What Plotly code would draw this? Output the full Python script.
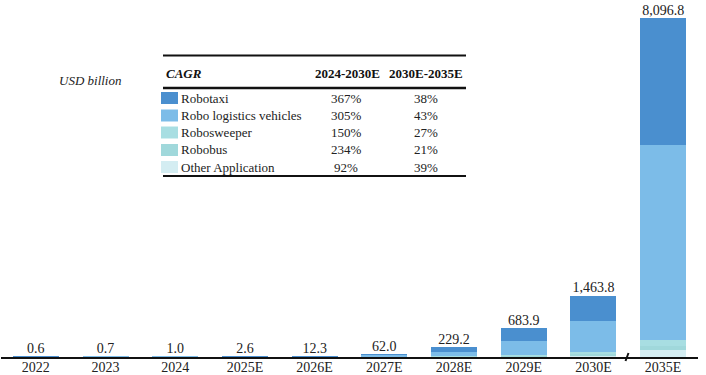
import plotly.graph_objects as go

categories = ["2022", "2023", "2024", "2025E", "2026E", "2027E", "2028E", "2029E", "2030E", "2035E"]
totals = [0.6, 0.7, 1.0, 2.6, 12.3, 62.0, 229.2, 683.9, 1463.8, 8096.8]
total_labels = ["0.6", "0.7", "1.0", "2.6", "12.3", "62.0", "229.2", "683.9", "1,463.8", "8,096.8"]

series_names = ["Other Application", "Robobus", "Robosweeper", "Robo logistics vehicles", "Robotaxi"]
other_app = [0.41, 0.45, 0.57, 0.8, 1.5, 2.5, 5.2, 14.9, 33.8, 176.8]
robobus = [0.01, 0.02, 0.03, 0.1, 0.6, 2.5, 6.0, 17.0, 40.0, 95.0]
robosweeper = [0.08, 0.10, 0.17, 0.5, 1.2, 3.0, 8.0, 22.0, 50.0, 145.0]
robo_logistics = [0.08, 0.10, 0.17, 0.9, 7.0, 44.0, 110.0, 340.0, 740.0, 4640.0]
robotaxi = [0.02, 0.03, 0.06, 0.3, 2.0, 10.0, 100.0, 290.0, 600.0, 3040.0]
series_values = [other_app, robobus, robosweeper, robo_logistics, robotaxi]
series_colors = ["#D4EDF2", "#A0D8DB", "#A8DEE2", "#7CBCE8", "#4A8FCF"]

# CAGR table (top to bottom)
table_names = ["Robotaxi", "Robo logistics vehicles", "Robosweeper", "Robobus", "Other Application"]
table_colors = ["#4A8FCF", "#7CBCE8", "#A8DEE2", "#A0D8DB", "#D4EDF2"]
cagr_2024_2030 = ["367%", "305%", "150%", "234%", "92%"]
cagr_2030_2035 = ["38%", "43%", "27%", "21%", "39%"]

W, H = 706, 375
BASE = 357  # pixel y of the x axis


def px(x):
    return x / W


def py(y):
    return (BASE - y) / BASE


SERIF = "Liberation Serif, Times New Roman, serif"


def label(x, y, text, size=13, anchor="center", color="#222"):
    return dict(x=px(x), y=py(y), xref="paper", yref="paper", text=text, showarrow=False,
                xanchor=anchor, yanchor="middle", borderpad=0,
                font=dict(family=SERIF, size=size, color=color))


fig = go.Figure()
for name, vals, col in zip(series_names, series_values, series_colors):
    fig.add_trace(go.Bar(x=categories, y=vals, name=name, marker=dict(color=col, line=dict(width=0)),
                         showlegend=False, hoverinfo="x+y+name"))

# total labels above the bars
fig.add_trace(go.Scatter(x=categories, y=totals, mode="text", text=total_labels, textposition="top center",
                         textfont=dict(family=SERIF, size=14, color="#222"), showlegend=False, hoverinfo="skip",
                         cliponaxis=False))

annotations = []
shapes = []
# table rules
for yy, wd in [(55.5, 2), (88, 2.5), (176, 2)]:
    shapes.append(dict(type="line", xref="paper", yref="paper", x0=px(163), x1=px(466), y0=py(yy), y1=py(yy),
                       line=dict(color="#111", width=wd)))

annotations.append(label(90, 80, "<i>USD billion</i>"))
annotations.append(label(165, 73, "<b><i>CAGR</i></b>", anchor="left", color="#111"))
annotations.append(label(347, 73, "<b>2024-2030E</b>", color="#111"))
annotations.append(label(426, 73, "<b>2030E-2035E</b>", color="#111"))

row_y = [98, 115.5, 132.5, 150, 167]
for yy, nm, col, a, b in zip(row_y, table_names, table_colors, cagr_2024_2030, cagr_2030_2035):
    shapes.append(dict(type="rect", xref="paper", yref="paper", x0=px(161), x1=px(178), y0=py(yy + 6), y1=py(yy - 6),
                       fillcolor=col, line=dict(width=0)))
    annotations.append(label(180, yy, nm, anchor="left"))
    annotations.append(label(346, yy, a))
    annotations.append(label(426, yy, b))

# axis break mark between 2030E and 2035E
shapes.append(dict(type="line", xref="paper", yref="paper", x0=px(625.5), x1=px(628.5), y0=py(361), y1=py(353),
                   line=dict(color="#111", width=2)))

fig.update_layout(
    width=W, height=H,
    margin=dict(l=0, r=0, t=0, b=H - BASE, pad=0),
    paper_bgcolor="white", plot_bgcolor="white",
    barmode="stack", bargap=0.34,
    xaxis=dict(type="category", range=[-0.5, len(categories) - 0.5], domain=[px(1), px(698)], showline=True,
               linecolor="#111", linewidth=1.5, ticks="", ticklabelstandoff=-4,
               tickfont=dict(family=SERIF, size=14, color="#222"),
               showgrid=False, automargin=False, fixedrange=True),
    yaxis=dict(range=[0, 8527], visible=False, showgrid=False, zeroline=False, automargin=False, fixedrange=True),
    annotations=annotations,
    shapes=shapes,
    showlegend=False,
)

fig.write_html("out.html", config={"displayModeBar": False},
               post_script="document.body.style.margin='0';")
